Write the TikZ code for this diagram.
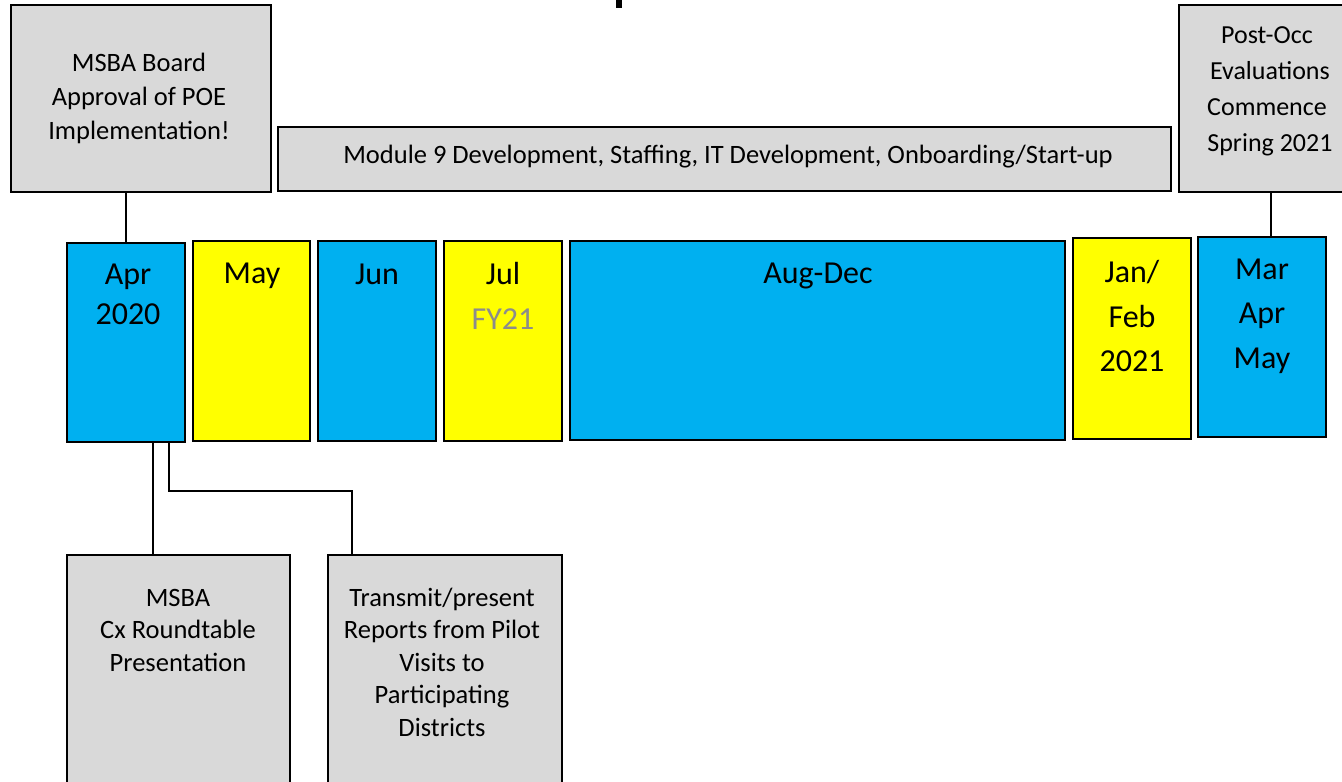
\documentclass[tikz,border=0pt]{standalone}
\usepackage{fontspec}
\setmainfont{Carlito}
\usepackage{tikz}
\usetikzlibrary{positioning}
\definecolor{monthblue}{HTML}{00B0F0}
\definecolor{monthyellow}{HTML}{FFFF00}
\definecolor{notegray}{HTML}{D9D9D9}
\definecolor{fygray}{HTML}{8C8C8C}

\begin{document}
\begin{tikzpicture}[x=1pt,y=-1pt]

\tikzset{
monthbox/.style={
draw=black,
line width=1.4pt,
inner sep=0pt
},
notebox/.style={
draw=black,
fill=notegray,
line width=1.6pt,
inner sep=0pt
},
monthlabel/.style={
align=center,
font=\fontsize{32}{44.5}\selectfont
},
notelabel/.style={
align=center,
font=\fontsize{26.5}{32.5}\selectfont
},
link/.style={
draw=black,
line width=1.6pt
}
}

\useasboundingbox (0,0) rectangle (1342,782);
\clip (0,0) rectangle (1342,782);

%--------------------------------------------------
% HEADING (cut off at the top edge)
%--------------------------------------------------

\fill (616,0) rectangle (622,8);

%--------------------------------------------------
% MONTHS
%--------------------------------------------------

\node[monthbox,fill=monthblue,minimum width=118,minimum height=199]
(apr) at (126,342.5) {};
\node[monthlabel,font=\fontsize{32}{40}\selectfont] (aprtxt) at (128,294)
{Apr\\2020};

\node[monthbox,fill=monthyellow,minimum width=117,minimum height=200]
(may) at (251.5,341) {};
\node[monthlabel] (maytxt) at (252,276) {May};

\node[monthbox,fill=monthblue,minimum width=118,minimum height=200]
(jun) at (377,341) {};
\node[monthlabel] (juntxt) at (377,274) {Jun};

\node[monthbox,fill=monthyellow,minimum width=118,minimum height=200]
(jul) at (503,341) {};
\node[monthlabel] (jultxt) at (503,296)
{Jul\\\textcolor{fygray}{FY21}};

\node[monthbox,fill=monthblue,minimum width=495,minimum height=199]
(augdec) at (817.5,340.5) {};
\node[monthlabel] (augdectxt) at (818,276) {Aug-Dec};

\node[monthbox,fill=monthyellow,minimum width=118,minimum height=201]
(janfeb) at (1132,338.5) {};
\node[monthlabel] (janfebtxt) at (1132,316) {Jan/\\Feb\\2021};

\node[monthbox,fill=monthblue,minimum width=128,minimum height=200]
(marmay) at (1262,337) {};
\node[monthlabel] (marmaytxt) at (1262,316) {Mar\\Apr\\May};

%--------------------------------------------------
% MILESTONES ABOVE
%--------------------------------------------------

\node[notebox,minimum width=260,minimum height=187]
(board) at (141,98.5) {};
\node[notelabel,font=\fontsize{26.5}{34}\selectfont] (boardtxt) at (139,98)
{MSBA Board\\Approval of POE\\Implementation!};

\node[notebox,minimum width=893,minimum height=64]
(module) at (724.5,159) {};
\node[notelabel] (moduletxt) at (728,157)
{Module 9 Development, Staffing, IT Development, Onboarding/Start-up};

\node[notebox,minimum width=184,minimum height=187]
(postocc) at (1271,98.5) {};
\node[notelabel,font=\fontsize{26}{36}\selectfont] (postocctxt) at (1267,91)
{Post-Occ\\\ Evaluations\\Commence\ \\\ Spring 2021};

%--------------------------------------------------
% MILESTONES BELOW
%--------------------------------------------------

\node[notebox,minimum width=223,minimum height=245]
(roundtable) at (178.5,677.5) {};
\node[notelabel] (roundtabletxt) at (178,630)
{MSBA\\Cx Roundtable\\Presentation};

\node[notebox,minimum width=234,minimum height=245]
(transmit) at (445,677.5) {};
\node[notelabel] (transmittxt) at (442,662)
{Transmit/present\\Reports from Pilot\\Visits to\\Participating\\Districts};

%--------------------------------------------------
% CONNECTORS
%--------------------------------------------------

\coordinate (aprA) at (153,442);
\coordinate (aprB) at (169,442);
\coordinate (transmitin) at (352,555);

\draw[link] (apr.north) -- (apr.north |- board.south);
\draw[link] (postocc.south) -- (postocc.south |- marmay.north);
\draw[link] (aprA) -- (aprA |- roundtable.north);
\draw[link] (aprB) -- ++(0,49) -| (transmitin);

\end{tikzpicture}
\end{document}
